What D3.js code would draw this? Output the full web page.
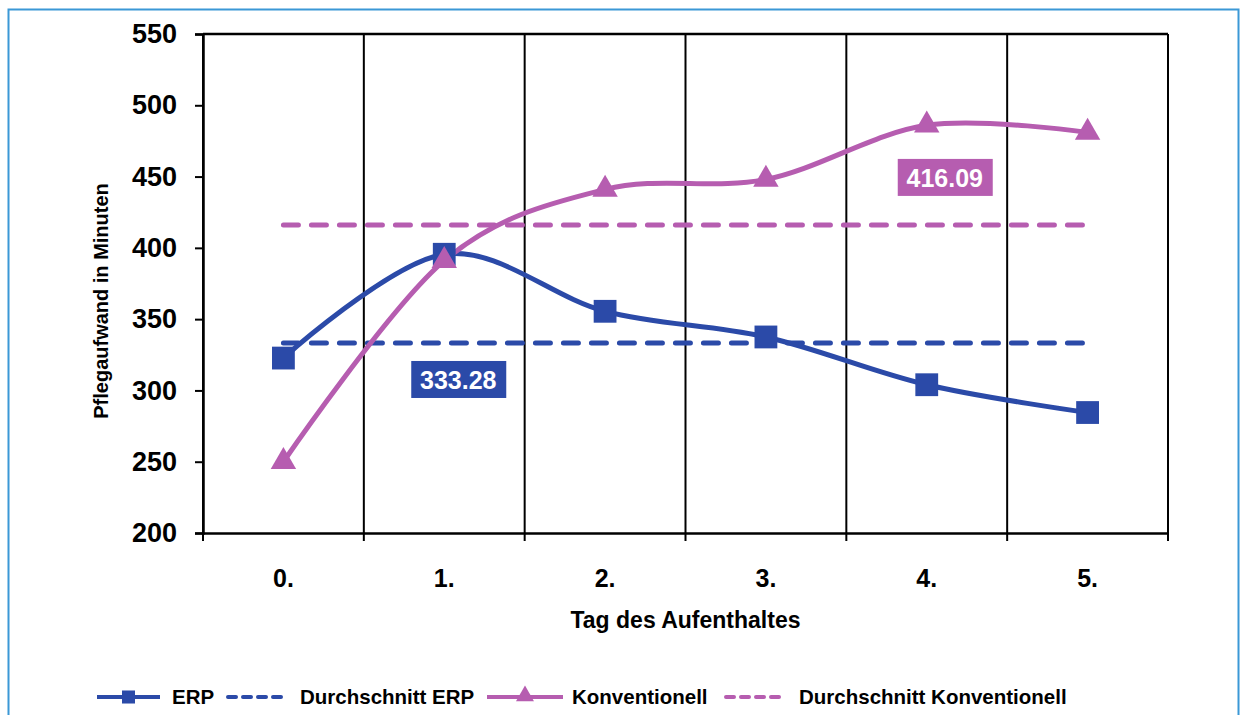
<!DOCTYPE html>
<html>
<head>
<meta charset="utf-8">
<script src="https://cdn.jsdelivr.net/npm/d3@7"></script>
<style>
  body { margin: 0; background: #fff; }
  text { font-family: "Liberation Sans", Arial, sans-serif; font-weight: bold; }
</style>
</head>
<body>
<svg width="1241" height="715"></svg>
<script>
/* data */
var days = ["0.", "1.", "2.", "3.", "4.", "5."];
var erp = [322.7, 395.5, 355.5, 337.5, 304, 284.5];
var konventionell = [250, 391, 441, 448, 486, 481];
var avgErp = 333.28;
var avgKonv = 416.09;
var yTicks = [200, 250, 300, 350, 400, 450, 500, 550];
var legendNames = ["ERP", "Durchschnitt ERP", "Konventionell", "Durchschnitt Konventionell"];

var blue = "#2b4aa8",
    purple = "#b65db0";

var svg = d3.select("svg"),
    margin = {top: 34, right: 73, bottom: 182, left: 203},
    width = +svg.attr("width") - margin.left - margin.right,
    height = +svg.attr("height") - margin.top - margin.bottom;

/* light blue frame round the whole figure */
svg.append("rect")
    .attr("x", 8.5).attr("y", 9.5)
    .attr("width", 1230).attr("height", 730)
    .attr("fill", "none")
    .attr("stroke", "#3b98d6")
    .attr("stroke-width", 2);

var g = svg.append("g").attr("transform", "translate(" + margin.left + "," + margin.top + ")");

var x = d3.scaleBand().domain(days).range([0, width]).paddingInner(0).paddingOuter(0);
var y = d3.scaleLinear().domain([200, 550]).range([height, 0]);
var cx = function(d) { return x(d) + x.bandwidth() / 2; };

/* vertical lines at the category borders, with the little ticks below the axis */
var borders = days.map(function(d) { return x(d); }).concat([width]);
g.selectAll(".vline")
  .data(borders)
  .enter().append("line")
    .attr("x1", function(d) { return d; })
    .attr("x2", function(d) { return d; })
    .attr("y1", 0)
    .attr("y2", height + 8)
    .attr("stroke", "#000")
    .attr("stroke-width", 2);

/* top border */
g.append("line")
    .attr("x1", 0).attr("x2", width)
    .attr("y1", 0).attr("y2", 0)
    .attr("stroke", "#000").attr("stroke-width", 2.5);

/* y axis */
var yAxis = g.append("g")
    .call(d3.axisLeft(y).tickValues(yTicks).tickSize(8).tickPadding(18));
yAxis.select(".domain").attr("stroke-width", 2.5);
yAxis.selectAll(".tick line").attr("stroke-width", 2);
yAxis.selectAll(".tick text")
    .attr("font-size", 27)
    .attr("fill", "#000");

/* x axis: labels in the middle of each band */
var xAxis = g.append("g")
    .attr("transform", "translate(0," + height + ")")
    .call(d3.axisBottom(x).tickSize(0).tickPadding(36));
xAxis.select(".domain").attr("stroke-width", 2.5);
xAxis.selectAll(".tick text")
    .attr("font-size", 25)
    .attr("fill", "#000");

/* axis titles */
g.append("text")
    .attr("transform", "translate(" + (108 - margin.left) + "," + (301 - margin.top) + ") rotate(-90)")
    .attr("text-anchor", "middle")
    .attr("font-size", 20)
    .text("Pflegaufwand in Minuten");

g.append("text")
    .attr("x", width / 2)
    .attr("y", height + 95)
    .attr("text-anchor", "middle")
    .attr("font-size", 23)
    .text("Tag des Aufenthaltes");

/* average lines */
function avgLine(val, color) {
  g.append("line")
      .attr("x1", cx(days[0]))
      .attr("x2", cx(days[days.length - 1]))
      .attr("y1", y(val))
      .attr("y2", y(val))
      .attr("stroke", color)
      .attr("stroke-width", 5)
      .attr("stroke-linecap", "round")
      .attr("stroke-dasharray", "15,13");
}
avgLine(avgKonv, purple);
avgLine(avgErp, blue);

/* smoothed series lines */
var line = d3.line()
    .x(function(d, i) { return cx(days[i]); })
    .y(function(d) { return y(d); })
    .curve(d3.curveCardinal.tension(0));

g.append("path")
    .datum(erp)
    .attr("fill", "none")
    .attr("stroke", blue)
    .attr("stroke-width", 5)
    .attr("d", line);

g.append("path")
    .datum(konventionell)
    .attr("fill", "none")
    .attr("stroke", purple)
    .attr("stroke-width", 5)
    .attr("d", line);

/* markers */
g.selectAll(".sq")
  .data(erp)
  .enter().append("path")
    .attr("transform", function(d, i) { return "translate(" + cx(days[i]) + "," + y(d) + ")"; })
    .attr("d", d3.symbol(d3.symbolSquare, 520))
    .attr("fill", blue);

g.selectAll(".tri")
  .data(konventionell)
  .enter().append("path")
    .attr("transform", function(d, i) { return "translate(" + cx(days[i]) + "," + y(d) + ")"; })
    .attr("d", d3.symbol(d3.symbolTriangle, 280))
    .attr("fill", purple);

/* value boxes for the averages */
function valueBox(val, px, py, color) {
  var bx = g.append("g").attr("transform", "translate(" + px + "," + py + ")");
  bx.append("rect")
      .attr("x", -47).attr("y", -19)
      .attr("width", 95).attr("height", 37)
      .attr("fill", color);
  bx.append("text")
      .attr("text-anchor", "middle")
      .attr("dy", "0.36em")
      .attr("font-size", 25)
      .attr("fill", "#fff")
      .text(d3.format(".2f")(val));
}
valueBox(avgErp, cx(days[1]) + 14, y(avgErp) + 37, blue);
valueBox(avgKonv, cx(days[4]) + 18, y(avgKonv) - 47, purple);

/* legend: symbol start, symbol length and text start for each entry */
var legendSymX = [97, 226, 487, 724],
    legendSymW = [63, 60, 76, 60],
    legendTextX = [172, 300, 572, 799];
var legend = svg.append("g").attr("transform", "translate(0,697)");
legendNames.forEach(function(name, i) {
  var color = i < 2 ? blue : purple;
  var dashed = i % 2 === 1;
  var item = legend.append("g").attr("transform", "translate(" + legendSymX[i] + ",0)");
  item.append("line")
      .attr("x1", dashed ? 2 : 0).attr("x2", legendSymW[i])
      .attr("stroke", color)
      .attr("stroke-width", 4)
      .attr("stroke-linecap", dashed ? "round" : "butt")
      .attr("stroke-dasharray", dashed ? "8,7" : null);
  if (!dashed) {
    item.append("path")
        .attr("transform", "translate(" + legendSymW[i] / 2 + "," + (i === 0 ? 0 : -1) + ")")
        .attr("d", d3.symbol(i === 0 ? d3.symbolSquare : d3.symbolTriangle, i === 0 ? 170 : 140))
        .attr("fill", color);
  }
  legend.append("text")
      .attr("x", legendTextX[i])
      .attr("dy", "0.36em")
      .attr("font-size", 20.5)
      .text(name);
});
</script>
</body>
</html>
